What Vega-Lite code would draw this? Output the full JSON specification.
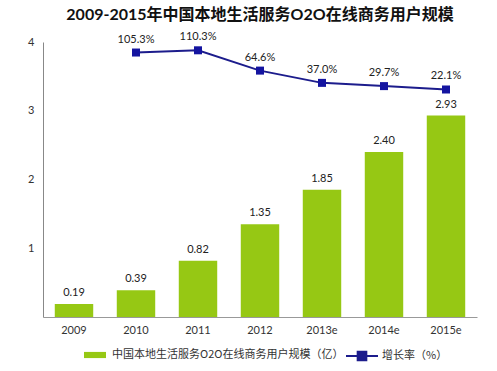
{
  "$schema": "https://vega.github.io/schema/vega-lite/v6.json",
  "width": 434,
  "height": 275,
  "autosize": {"type": "none"},
  "padding": {"left": 43, "top": 42, "right": 20, "bottom": 54},
  "background": "white",
  "title": {
    "text": "2009-2015年中国本地生活服务O2O在线商务用户规模",
    "fontSize": 16,
    "fontWeight": "bold",
    "font": "Lato, Noto Sans CJK SC",
    "color": "#111111",
    "offset": 8,
    "anchor": "middle"
  },
  "data": {
    "values": [
      {"year": "2009", "users": 0.19, "growth": null},
      {"year": "2010", "users": 0.39, "growth": 105.3},
      {"year": "2011", "users": 0.82, "growth": 110.3},
      {"year": "2012", "users": 1.35, "growth": 64.6},
      {"year": "2013e", "users": 1.85, "growth": 37.0},
      {"year": "2014e", "users": 2.40, "growth": 29.7},
      {"year": "2015e", "users": 2.93, "growth": 22.1}
    ]
  },
  "encoding": {
    "x": {
      "field": "year",
      "type": "ordinal",
      "sort": null,
      "scale": {"paddingInner": 0.38, "paddingOuter": 0.19},
      "axis": {
        "title": null,
        "labelAngle": 0,
        "ticks": false,
        "domainColor": "#999999",
        "labelPadding": 7,
        "labelFontSize": 11,
        "labelColor": "#333333",
        "labelFont": "Lato"
      }
    }
  },
  "layer": [
    {
      "layer": [
        {
          "mark": {"type": "bar", "color": "#96c814"},
          "encoding": {
            "y": {
              "field": "users",
              "type": "quantitative",
              "scale": {"domain": [0, 4]},
              "axis": {
                "title": null,
                "values": [1, 2, 3, 4],
                "format": "d",
                "ticks": false,
                "grid": false,
                "domainColor": "#888888",
                "labelPadding": 9,
                "labelFontSize": 11,
                "labelColor": "#333333",
                "labelFont": "Lato"
              }
            },
            "fill": {
              "datum": "中国本地生活服务O2O在线商务用户规模（亿）",
              "type": "nominal",
              "scale": {"range": ["#96c814"]},
              "legend": {
                "title": null,
                "orient": "none",
                "legendX": 41,
                "legendY": 302,
                "symbolType": "M-1,-0.28H1V0.28H-1Z",
                "symbolSize": 484,
                "symbolStrokeWidth": 0,
                "labelOffset": 6,
                "labelFontSize": 11,
                "labelColor": "#333333",
                "labelFont": "Noto Sans CJK SC",
                "labelLimit": 400
              }
            }
          }
        },
        {
          "mark": {"type": "text", "baseline": "bottom", "dy": -6, "fontSize": 11, "color": "#222222", "font": "Lato"},
          "encoding": {
            "y": {"field": "users", "type": "quantitative"},
            "text": {"field": "users", "type": "quantitative", "format": ".2f"}
          }
        }
      ]
    },
    {
      "transform": [
        {"filter": "datum.growth != null"},
        {"calculate": "format(datum.growth, '.1f') + '%'", "as": "growthLabel"}
      ],
      "layer": [
        {
          "mark": {"type": "line", "strokeWidth": 2},
          "encoding": {
            "y": {"field": "growth", "type": "quantitative", "scale": {"domain": [-490, 129]}, "axis": null},
            "stroke": {
              "datum": "增长率（%）",
              "type": "nominal",
              "scale": {"range": ["#1c1c8c"]},
              "legend": {
                "title": null,
                "orient": "none",
                "legendX": 302,
                "legendY": 297,
                "symbolType": "M-1,0H1M-0.27,-0.27H0.27V0.27H-0.27Z",
                "symbolSize": 1024,
                "symbolStrokeWidth": 2,
                "symbolFillColor": "#1c1c8c",
                "labelOffset": 3,
                "labelFontSize": 11,
                "labelColor": "#333333",
                "labelFont": "Noto Sans CJK SC"
              }
            }
          }
        },
        {
          "mark": {"type": "point", "shape": "square", "filled": true, "size": 64, "color": "#1414a0", "opacity": 1},
          "encoding": {
            "y": {"field": "growth", "type": "quantitative", "scale": {"domain": [-490, 129]}, "axis": null}
          }
        },
        {
          "mark": {"type": "text", "baseline": "bottom", "dy": -8, "fontSize": 11, "color": "#222222", "font": "Lato"},
          "encoding": {
            "y": {"field": "growth", "type": "quantitative", "scale": {"domain": [-490, 129]}, "axis": null},
            "text": {"field": "growthLabel", "type": "nominal"}
          }
        }
      ]
    }
  ],
  "resolve": {"scale": {"y": "independent"}},
  "config": {"view": {"stroke": null}}
}
